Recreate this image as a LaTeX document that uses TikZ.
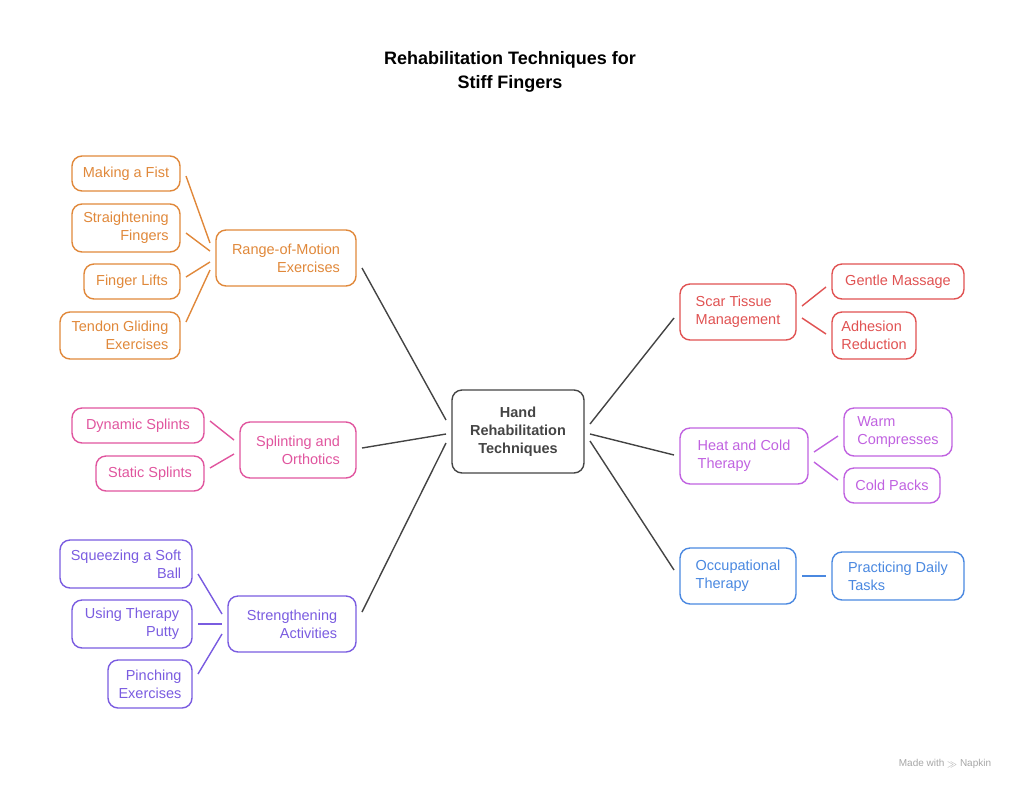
\documentclass[tikz,border=0pt]{standalone}
\usepackage{fontspec}
\setmainfont{Liberation Sans}
\definecolor{orn}{HTML}{E0883A}
\definecolor{pnk}{HTML}{E0559E}
\definecolor{vio}{HTML}{7A5CE0}
\definecolor{red}{HTML}{E05252}
\definecolor{pur}{HTML}{C062E0}
\definecolor{blu}{HTML}{4A88E0}
\definecolor{dk}{HTML}{444444}
\begin{document}
\begin{tikzpicture}[x=1pt,y=-1pt,
 bx/.style={draw,rounded corners=10pt,line width=1.4pt,font=\fontsize{14.5}{18}\selectfont,inner sep=0pt},
 L/.style={align=right},R/.style={align=left},
 ln/.style={line width=1.4pt}]
\useasboundingbox (0,0) rectangle (1024,793);
\def\B#1#2#3#4#5#6#7#8{\node[bx,#6,draw=#7,text=#7,minimum width=#3-#1,minimum height=#4-#2] (#5) at ({(#1+#3)/2},{(#2+#4)/2}) {#8};}
\node[font=\bfseries\fontsize{18}{24}\selectfont,align=center] (t) at (510,72) {Rehabilitation Techniques for\\Stiff Fingers};
\node[bx,draw=dk,text=dk,font=\bfseries\fontsize{14.5}{18}\selectfont,align=center,minimum width=132,minimum height=83] (c) at (518,431.5) {Hand\\Rehabilitation\\Techniques};
\B{216}{230}{356}{286}{rom}{L}{orn}{Range-of-Motion\\Exercises}
\B{72}{156}{180}{191}{a1}{L}{orn}{Making a Fist}
\B{72}{204}{180}{252}{a2}{L}{orn}{Straightening\\Fingers}
\B{84}{264}{180}{299}{a3}{L}{orn}{Finger Lifts}
\B{60}{312}{180}{359}{a4}{L}{orn}{Tendon Gliding\\Exercises}
\B{240}{422}{356}{478}{spl}{L}{pnk}{Splinting and\\Orthotics}
\B{72}{408}{204}{443}{b1}{L}{pnk}{Dynamic Splints}
\B{96}{456}{204}{491}{b2}{L}{pnk}{Static Splints}
\B{228}{596}{356}{652}{str}{L}{vio}{Strengthening\\Activities}
\B{60}{540}{192}{588}{c1}{L}{vio}{Squeezing a Soft\\Ball}
\B{72}{600}{192}{648}{c2}{L}{vio}{Using Therapy\\Putty}
\B{108}{660}{192}{708}{c3}{L}{vio}{Pinching\\Exercises}
\B{680}{284}{796}{340}{sc}{R}{red}{Scar Tissue\\Management}
\B{832}{264}{964}{299}{d1}{R}{red}{Gentle Massage}
\B{832}{312}{916}{359}{d2}{R}{red}{Adhesion\\Reduction}
\B{680}{428}{808}{484}{hc}{R}{pur}{Heat and Cold\\Therapy}
\B{844}{408}{952}{456}{e1}{R}{pur}{Warm\\Compresses}
\B{844}{468}{940}{503}{e2}{R}{pur}{Cold Packs}
\B{680}{548}{796}{604}{oc}{R}{blu}{Occupational\\Therapy}
\B{832}{552}{964}{600}{f1}{R}{blu}{Practicing Daily\\Tasks}
\node[text=gray!70,font=\fontsize{10}{12}\selectfont] (w) at (945,764) {Made with \raisebox{-0.5pt}{$\gg$} Napkin};
\def\C#1#2#3#4#5{\draw[ln,#1] (#2,#3) -- (#4,#5);}
\C{dk}{446}{420}{362}{268}
\C{dk}{446}{434}{362}{448}
\C{dk}{446}{443}{362}{612}
\C{dk}{590}{424}{674}{318}
\C{dk}{590}{434}{674}{455}
\C{dk}{590}{441}{674}{570}
\C{orn}{186}{176}{210}{243}
\C{orn}{186}{233}{210}{251}
\C{orn}{186}{277}{210}{262}
\C{orn}{186}{322}{210}{270}
\C{pnk}{210}{421}{234}{440}
\C{pnk}{210}{468}{234}{454}
\C{vio}{198}{574}{222}{614}
\C{vio}{198}{624}{222}{624}
\C{vio}{198}{674}{222}{634}
\C{red}{802}{306}{826}{287}
\C{red}{802}{318}{826}{334}
\C{pur}{814}{452}{838}{436}
\C{pur}{814}{462}{838}{480}
\C{blu}{802}{576}{826}{576}
\end{tikzpicture}
\end{document}
